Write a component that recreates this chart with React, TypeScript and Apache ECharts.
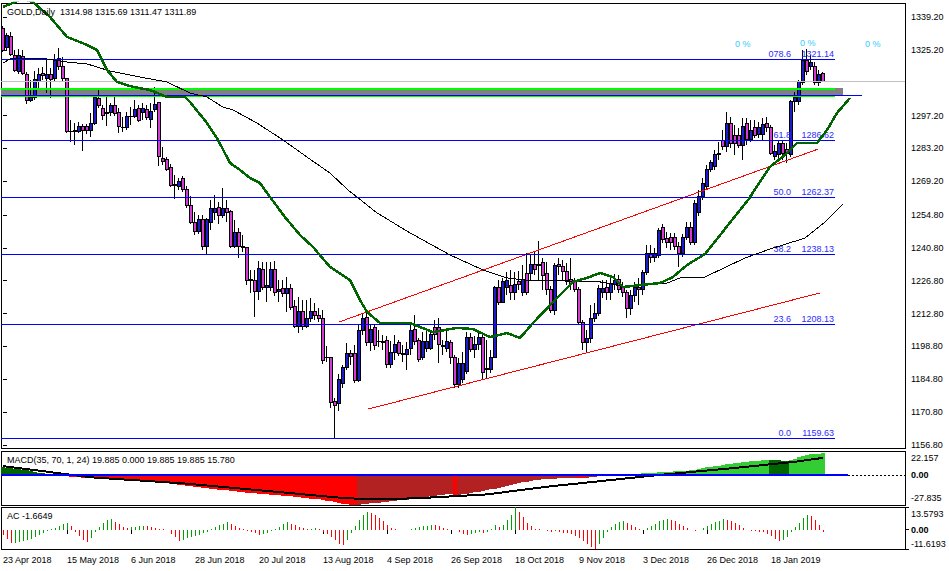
import React, { useEffect, useRef } from "react";
import * as echarts from "echarts";

const FONT = "'Liberation Sans', Arial, sans-serif";

// ---- Daily OHLC (GOLD) ----
const open = [1334.1,1326.4,1330.7,1323.0,1315.8,1322.2,1314.9,1303.8,1304.7,1311.9,1315.3,1313.2,1314.9,1312.8,1321.7,1318.3,1312.8,1290.6,1290.6,1290.6,1292.7,1292.7,1291.0,1294.0,1304.3,1300.0,1297.9,1298.3,1301.3,1298.7,1292.3,1291.9,1296.6,1297.0,1300.4,1298.3,1299.6,1295.7,1299.6,1302.6,1278.7,1278.3,1274.9,1267.2,1266.8,1270.2,1265.9,1258.7,1251.8,1247.6,1252.7,1241.2,1251.8,1255.7,1258.2,1254.8,1257.8,1256.1,1241.6,1247.2,1241.2,1240.8,1226.7,1227.1,1222.4,1231.4,1224.1,1224.1,1231.4,1222.4,1223.3,1221.2,1223.7,1216.0,1207.5,1213.9,1207.5,1210.5,1213.9,1212.2,1210.9,1193.9,1193.9,1175.5,1174.3,1183.2,1190.0,1196.0,1196.0,1184.5,1205.8,1211.3,1200.3,1206.7,1200.7,1201.1,1201.5,1191.3,1196.4,1200.3,1195.2,1195.2,1198.1,1206.2,1201.5,1194.3,1198.1,1198.1,1206.7,1206.7,1199.0,1198.1,1200.3,1194.3,1182.4,1184.9,1188.3,1202.8,1197.3,1199.8,1202.8,1188.8,1188.8,1194.3,1224.1,1217.7,1224.1,1224.6,1222.0,1226.3,1221.6,1230.1,1230.1,1233.9,1233.1,1234.4,1230.1,1222.9,1214.3,1233.9,1232.7,1230.9,1227.5,1226.3,1222.9,1209.2,1200.3,1202.0,1210.9,1213.0,1221.6,1224.1,1221.6,1225.0,1227.5,1224.1,1221.6,1214.8,1220.3,1224.1,1222.9,1230.5,1238.6,1236.9,1237.4,1249.7,1244.6,1245.4,1245.4,1241.2,1238.6,1245.4,1249.7,1242.9,1255.7,1262.5,1266.8,1274.0,1275.7,1280.4,1286.4,1284.2,1294.0,1288.9,1288.9,1284.6,1294.0,1287.2,1291.9,1289.3,1289.3,1294.0,1291.9,1279.9,1280.4,1285.1,1282.9,1280.4,1303.0,1303.0,1311.1,1320.5,1317.9,1317.9,1311.5,1314.98];
const high = [1335.4,1332.4,1332.8,1325.1,1325.6,1325.1,1315.8,1312.4,1316.2,1317.5,1317.9,1320.9,1317.5,1323.4,1326.0,1322.2,1313.2,1295.3,1294.0,1294.5,1293.6,1293.6,1298.3,1305.1,1308.1,1301.7,1305.1,1302.6,1305.1,1300.4,1296.6,1298.7,1300.8,1303.8,1301.7,1302.6,1301.7,1302.6,1309.4,1303.0,1283.8,1279.5,1276.6,1271.9,1270.6,1271.5,1267.2,1262.9,1256.1,1254.8,1254.8,1253.5,1261.2,1263.3,1260.4,1266.3,1261.2,1257.0,1252.7,1249.3,1246.3,1241.2,1231.4,1231.4,1235.2,1234.8,1234.8,1234.8,1235.2,1227.1,1227.1,1228.4,1225.4,1218.6,1219.9,1218.6,1218.6,1219.4,1217.3,1215.2,1214.3,1199.0,1194.3,1176.8,1187.0,1190.9,1200.3,1197.3,1199.4,1207.9,1212.6,1213.0,1207.9,1207.9,1205.8,1203.7,1203.2,1201.1,1203.7,1201.5,1199.4,1200.7,1207.9,1212.2,1202.4,1204.9,1205.8,1205.8,1210.1,1210.9,1201.5,1205.8,1201.5,1195.2,1193.9,1196.4,1204.9,1204.5,1203.2,1204.9,1204.1,1201.5,1197.3,1224.6,1227.1,1228.0,1230.5,1231.4,1230.5,1230.9,1233.5,1238.6,1237.8,1239.0,1243.7,1236.5,1234.8,1224.6,1234.4,1236.5,1235.6,1234.4,1236.5,1228.0,1224.1,1210.1,1205.8,1216.5,1217.3,1225.0,1227.1,1227.1,1228.0,1229.7,1229.2,1226.3,1222.9,1222.9,1226.3,1228.0,1231.4,1242.0,1242.0,1240.8,1249.3,1251.0,1247.6,1247.2,1247.2,1243.3,1246.7,1251.8,1251.8,1261.2,1265.5,1270.6,1276.1,1278.3,1282.5,1285.9,1291.0,1298.7,1296.6,1293.2,1291.9,1296.2,1296.2,1295.3,1295.3,1294.5,1296.2,1296.6,1293.2,1284.6,1286.8,1286.8,1285.5,1303.8,1307.2,1312.4,1325.1,1325.6,1323.0,1320.0,1316.6,1315.69];
const low = [1324.3,1325.1,1322.6,1315.8,1314.9,1314.5,1302.1,1303.0,1303.8,1308.1,1312.4,1306.8,1304.7,1311.5,1316.6,1311.5,1289.8,1285.9,1284.6,1289.8,1282.1,1289.3,1288.1,1293.2,1300.4,1295.3,1292.7,1297.0,1297.0,1289.8,1290.2,1291.0,1293.2,1296.2,1294.5,1295.3,1295.3,1291.9,1298.7,1275.7,1276.1,1273.6,1266.8,1261.6,1265.5,1264.6,1257.8,1251.0,1246.3,1246.7,1239.9,1238.2,1248.4,1252.7,1251.0,1253.5,1251.8,1240.8,1240.8,1236.5,1239.0,1225.0,1221.6,1211.3,1218.6,1222.9,1217.7,1222.4,1220.3,1217.7,1219.9,1213.5,1214.3,1206.7,1204.5,1205.8,1206.7,1209.2,1210.1,1209.2,1191.3,1192.2,1172.5,1159.63,1171.3,1181.1,1188.8,1190.9,1183.2,1183.6,1203.7,1199.0,1196.9,1197.3,1198.6,1197.3,1189.6,1189.6,1193.0,1194.7,1192.2,1188.8,1195.2,1199.4,1192.2,1193.0,1196.4,1197.3,1201.5,1191.7,1195.2,1196.4,1191.3,1181.1,1181.1,1183.2,1187.0,1196.4,1193.9,1197.3,1184.5,1185.3,1187.5,1193.9,1216.5,1217.3,1220.7,1218.6,1218.6,1222.9,1220.3,1220.7,1227.1,1229.2,1227.1,1222.9,1220.7,1213.0,1212.2,1229.2,1227.1,1225.0,1222.9,1222.0,1208.4,1197.3,1196.0,1200.3,1209.2,1211.8,1219.4,1218.6,1218.6,1222.9,1221.6,1219.9,1210.9,1212.2,1217.7,1216.5,1220.7,1229.2,1234.4,1234.8,1236.5,1242.9,1240.8,1239.9,1239.9,1232.7,1236.9,1244.2,1242.0,1242.0,1254.4,1261.2,1265.5,1273.1,1274.0,1278.3,1282.5,1281.7,1283.4,1280.4,1283.4,1278.3,1284.6,1285.9,1287.6,1287.6,1286.8,1290.2,1280.4,1278.3,1279.1,1278.3,1277.0,1279.5,1298.7,1301.7,1310.2,1314.5,1316.6,1310.2,1309.8,1311.47];
const close = [1325.1,1331.5,1323.4,1316.6,1323.0,1315.3,1303.8,1305.1,1312.4,1314.9,1314.1,1314.5,1312.4,1321.3,1317.9,1312.8,1290.2,1290.2,1291.0,1292.7,1291.0,1291.0,1294.0,1304.7,1301.3,1297.4,1298.3,1301.3,1297.9,1292.7,1291.9,1296.6,1297.0,1299.6,1295.3,1300.4,1296.2,1299.1,1302.1,1279.9,1277.8,1274.4,1267.6,1268.0,1269.3,1265.5,1258.7,1251.8,1247.6,1252.7,1241.6,1252.7,1257.8,1257.8,1254.8,1257.8,1255.7,1241.6,1247.2,1241.2,1240.8,1227.1,1227.5,1222.4,1232.2,1224.1,1224.6,1231.4,1222.0,1222.9,1221.2,1223.7,1215.6,1207.5,1213.5,1207.5,1210.9,1213.5,1212.2,1210.9,1193.0,1194.3,1174.7,1173.8,1184.9,1190.0,1196.0,1194.7,1184.5,1205.8,1210.9,1200.3,1206.2,1199.4,1201.1,1200.3,1191.3,1196.4,1199.8,1196.0,1195.6,1197.3,1205.8,1200.7,1193.4,1200.7,1201.1,1203.7,1203.7,1199.8,1198.6,1200.7,1194.3,1182.4,1191.7,1191.7,1202.8,1197.3,1199.8,1202.8,1187.9,1189.6,1194.3,1224.1,1217.7,1226.3,1226.7,1222.0,1225.4,1225.0,1227.5,1221.6,1233.9,1231.4,1233.9,1229.2,1222.9,1214.3,1233.1,1232.7,1230.9,1226.3,1225.8,1222.9,1209.2,1200.3,1202.0,1210.9,1213.0,1223.7,1223.7,1221.6,1225.8,1227.1,1222.9,1221.6,1214.8,1220.7,1224.1,1222.9,1230.5,1238.2,1236.9,1238.2,1248.4,1244.2,1242.9,1242.9,1241.2,1238.6,1245.4,1249.3,1242.9,1259.9,1262.5,1268.4,1274.0,1277.0,1280.4,1281.2,1284.2,1294.0,1285.1,1285.1,1284.6,1292.7,1286.8,1291.0,1288.9,1291.9,1293.2,1291.9,1281.2,1281.7,1285.1,1281.2,1281.2,1303.0,1305.1,1311.9,1320.5,1315.8,1320.0,1311.5,1314.9,1311.89];

// moving averages (bar index, price)
const greenMA = [[0,1343.5],[2.5,1345.2],[4.75,1347],[7.5,1345.6],[11.75,1339.2],[16,1330.7],[21,1327.3],[23.5,1325.1],[26,1316.6],[28.5,1311.5],[32.5,1309.4],[36.75,1308.1],[41,1305.1],[45.5,1305.1],[46.75,1303.0],[51,1294.0],[53.75,1286.8],[56.75,1277.0],[59.25,1274.0],[61.75,1270.6],[64.25,1268.4],[66.75,1262.5],[70.5,1253.9],[74.25,1246.3],[77.5,1241.2],[81.75,1232.7],[86.75,1227.1],[89.25,1218.6],[91,1213.5],[94.25,1208.8],[98,1208.8],[101.75,1208.8],[107.5,1204.9],[113.5,1206.7],[117.5,1206.2],[121.75,1202.8],[126,1204.5],[129.25,1202.4],[132.5,1208.8],[137.5,1217.7],[142.5,1226.3],[146,1228.0],[149.25,1230.1],[152.5,1228.4],[155,1224.1],[159.25,1225.0],[164.25,1225.8],[167.5,1228.4],[171,1233.5],[175.5,1238.2],[186.25,1261.2],[191.75,1275.3],[196,1281.2],[198.5,1285.5],[203.5,1285.5],[206,1291.0],[208.5,1298.3],[211.75,1304.7]];
const blackMA = [[0,1319.6],[1.75,1321.3],[7.5,1321.7],[11,1321.3],[16,1320.0],[21,1319.2],[26.75,1316.2],[34.25,1313.6],[41,1311.5],[46.75,1306.8],[51,1305.1],[55,1300.8],[57.5,1299.6],[63.5,1294.0],[70,1286.8],[76,1279.5],[81.75,1272.7],[86.25,1265.5],[93.5,1255.7],[101.75,1247.2],[111.75,1237.8],[120,1231.4],[126,1228.0],[132.5,1226.7],[141,1226.7],[149.25,1226.3],[156,1224.1],[161,1225.0],[166,1225.8],[169.25,1228.0],[175.5,1228.4],[185.5,1236.5],[191.75,1240.3],[200.5,1245.0],[205.5,1251.8],[210,1259.5]];

// drawn objects
const channelUpper = [[84,1209.2],[203.75,1282.9]];
const channelLower = [[91.25,1172.1],[204.25,1221.6]];
const fibLevels = ["078.6","61.8","50.0","38.2","23.6","0.0"];
const fibPrices = [1321.14,1286.62,1262.37,1238.13,1208.13,1159.63];
const zoneTop = 1308.8;
const zoneBottom = 1306.0;
const hLinePrice = 1306.0;
const lastPrice = 1311.89;

// axes
const priceTicks = [1156.8,1170.8,1184.8,1198.8,1212.8,1226.8,1240.8,1254.8,1269.2,1283.2,1297.2,1325.2,1339.2];
const dateLabels = ["23 Apr 2018","15 May 2018","6 Jun 2018","28 Jun 2018","20 Jul 2018","13 Aug 2018","4 Sep 2018","26 Sep 2018","18 Oct 2018","9 Nov 2018","3 Dec 2018","26 Dec 2018","18 Jan 2019"];
const macdMax = 22.157, macdMin = -27.835;
const acMax = 13.5793, acMin = -11.6193;

// MACD(35,70,1,24) histogram and signal
const macd = [7.0,6.6,6.2,5.8,5.3,4.8,4.2,3.6,2.9,2.2,1.4,0.6,
-0.2,-0.6,-0.9,-1.1,-1.4,-1.7,-2.0,-2.3,-2.5,-2.7,-3.0,
-3.2,-3.4,-3.6,-3.8,-4.0,-4.3,-4.6,-4.9,-5.1,-5.4,-5.6,-5.8,-6.0,-6.2,-6.4,-6.6,-7.0,-7.4,-7.8,-8.2,-8.6,-9.1,-9.6,
-10.1,-10.6,-11.1,-11.6,-12.1,-12.5,-12.9,-13.3,-13.7,-14.0,-14.3,-14.7,-15.1,-15.5,-15.9,-16.3,-16.7,-17.1,-17.5,-17.8,-18.1,-18.4,-18.7,
-19.0,-19.3,-19.6,-19.9,-20.3,-20.7,-21.1,-21.5,-21.9,-22.3,-22.7,-23.2,-23.7,-24.3,-25.2,-25.9,
-26.6,-27.1,-27.5,-27.8,
-27.6,-27.2,-26.8,-26.4,-26.0,-25.6,-25.2,-24.8,-24.4,-24.0,-23.6,-23.2,-22.8,-22.2,-21.5,
-21.0,-20.5,-20.0,-19.6,-19.2,-18.8,-18.4,-18.1,-17.9,-18.6,
-18.3,-17.8,-17.2,-16.6,-16.0,-15.4,-14.9,-14.3,-13.4,-12.6,-11.8,-11.0,-10.2,-9.2,-8.1,
-7.4,-6.8,-6.2,-5.6,-5.1,-4.6,-4.2,-3.9,-3.7,-3.4,-3.2,-3.0,
-2.8,-2.6,-2.5,-2.7,-3.0,-2.9,-2.3,-1.7,-1.0,-0.5,-0.1,0.3,
0.6,0.8,1.0,0.9,1.0,1.2,1.3,1.5,1.8,2.0,2.2,2.6,2.7,2.8,
3.0,3.2,3.3,3.6,4.0,4.2,4.9,5.5,6.2,6.9,7.5,8.1,8.6,9.2,10.0,
10.4,10.8,11.2,11.7,12.1,12.5,12.9,13.3,13.7,14.0,
13.8,13.6,13.5,13.3,13.1,14.2,15.2,16.3,17.6,18.4,19.1,19.4,19.7,19.885];
const macdSignal = [[0,8.2],[11,3.0],[22,-2.2],[45,-7.8],[68,-15.5],[86,-21.7],[94,-22.3],[103,-21.7],[121,-18.0],[136,-10.9],[152,-4.7],[164,0],[182,6.1],[198,12.2],[205,15.78]];

// Accelerator oscillator
const ac = [-3.0,-5.5,-8.0,-7.8,-7.5,-7.0,-6.3,-5.5,-4.6,-3.5,-2.2,-1.0,0.3,1.2,2.2,3.3,3.8,2.0,-1.5,-4.0,-6.5,-7.5,-5.0,-1.5,1.5,4.0,5.8,6.2,4.8,3.2,1.6,1.0,1.3,1.6,1.9,2.2,2.0,1.5,1.0,0.6,0.3,-0.5,-2.5,-4.5,-7.0,-6.0,-5.2,-4.5,-3.8,-3.0,-2.2,-1.2,0.2,1.5,2.6,3.6,4.3,3.6,2.4,1.2,0.3,-0.6,-1.4,-2.3,-3.2,-2.6,-1.8,-0.9,0.4,1.8,3.2,4.3,3.6,2.5,1.6,0.9,0.5,0.6,0.8,0.4,-1.2,-2.8,-4.6,-6.5,-8.5,-9.5,-6.0,-2.0,2.0,6.0,9.0,10.5,10.0,8.5,7.0,5.0,2.5,1.0,0.3,-0.3,-0.5,-0.2,0.2,0.8,1.4,2.0,2.4,2.8,2.5,1.9,1.2,0.6,0.0,-0.5,-1.5,-2.8,-3.5,-2.9,-2.2,-1.5,-1.8,-1.2,0.5,2.5,1.5,2.8,5.5,9.0,13.58,10.5,7.5,4.0,2.0,0.5,0.2,-0.3,-0.8,-1.2,-0.8,-1.2,-1.8,-2.3,-2.9,-3.6,-5.0,-7.0,-8.8,-10.5,-11.62,-8.5,-5.0,-1.5,1.5,3.5,4.5,5.0,3.8,2.5,1.5,0.5,-0.3,0.8,2.0,3.5,5.0,5.8,6.3,6.0,5.0,3.5,2.2,1.0,0.0,-0.8,-0.3,0.8,2.0,3.2,4.3,5.3,6.2,6.0,5.0,3.8,2.6,1.2,-0.2,-0.6,-1.0,-1.3,-1.6,-2.5,-4.0,-5.5,-6.6,-6.3,-4.5,-1.5,1.5,4.0,7.0,9.0,8.2,6.0,3.0,-1.6649];

const SLOTS = 226;
const LABEL_EVERY = 16;
const FIB_END = 208;
const ZONE_END = 210;
const HLINE_END = 214.75;
const ZERO_END = 211.25;

export default function App() {
  const ref = useRef<HTMLDivElement>(null);
  useEffect(() => {
    const chart = echarts.init(ref.current as HTMLDivElement, null, { renderer: "svg" });
    const cats = Array.from({ length: SLOTS }, (_, i) => String(i));
    const showLabel = (i: number) => i % LABEL_EVERY === 0 && i / LABEL_EVERY < dateLabels.length;
    const txt = { fontFamily: FONT, fontSize: 9, color: "#000" };
    const gridBase = { left: 1, width: 904, show: true, borderColor: "#000", borderWidth: 1, backgroundColor: "#fff", outerBoundsMode: "none", containLabel: false };

    const macdColors = macd.map((v, i) => {
      const prev = i === 0 ? Infinity : macd[i - 1];
      if (v >= 0) return v >= prev ? "#32cd32" : "#006400";
      return v <= prev ? "#ff0000" : "#b22222";
    });
    const acColors = ac.map((v, i) => (i > 0 && v > ac[i - 1] ? "#00a000" : "#ff0000"));

    const lineOpts = { type: "line", showSymbol: false, symbol: "none", silent: true, clip: true };

    const option: any = {
      animation: false,
      backgroundColor: "#fff",
      textStyle: { fontFamily: FONT },
      grid: [
        { ...gridBase, top: 3, height: 445 },
        { ...gridBase, top: 451, height: 54 },
        { ...gridBase, top: 507, height: 42 },
      ],
      xAxis: [
        { type: "category", gridIndex: 0, data: cats, show: false },
        { type: "value", gridIndex: 0, min: -0.5, max: SLOTS - 0.5, show: false },
        { type: "category", gridIndex: 1, data: cats, show: false },
        { type: "value", gridIndex: 1, min: -0.5, max: SLOTS - 0.5, show: false },
        {
          type: "category", gridIndex: 2, data: cats,
          axisLine: { show: false },
          axisTick: { show: true, alignWithLabel: true, interval: (i: number) => showLabel(i), length: 4, lineStyle: { color: "#000" } },
          axisLabel: { ...txt, interval: (i: number) => showLabel(i), align: "left", margin: 6, formatter: (_v: string, i: number) => (showLabel(i) ? dateLabels[i / LABEL_EVERY] : "") },
          splitLine: { show: false },
        },
      ],
      yAxis: [
        {
          type: "value", gridIndex: 0, position: "right", min: 1155.52, max: 1345.17,
          splitLine: { show: false }, axisLine: { show: false },
          axisTick: { show: true, customValues: priceTicks, length: 4, lineStyle: { color: "#000" } },
          axisLabel: { ...txt, customValues: priceTicks, margin: 6, formatter: (v: number) => v.toFixed(2) },
        },
        {
          type: "value", gridIndex: 1, position: "right", min: macdMin, max: macdMax,
          splitLine: { show: false }, axisLine: { show: false },
          axisTick: { show: true, customValues: [macdMin, 0, macdMax], length: 4, lineStyle: { color: "#000" } },
          axisLabel: {
            ...txt, customValues: [macdMin, 0, macdMax], margin: 6,
            formatter: (v: number) => (v === macdMax ? "{t|" + v.toFixed(3) + "}" : v === macdMin ? "{b|" + v.toFixed(3) + "}" : "{z|0.00}"),
            rich: { t: { ...txt, padding: [13, 0, 0, 0] }, b: { ...txt, padding: [0, 0, 14, 0] }, z: { ...txt, fontWeight: "bold" } },
          },
        },
        {
          type: "value", gridIndex: 2, position: "right", min: acMin, max: acMax,
          splitLine: { show: false }, axisLine: { show: false },
          axisTick: { show: true, customValues: [acMin, 0, acMax], length: 4, lineStyle: { color: "#000" } },
          axisLabel: {
            ...txt, customValues: [acMin, 0, acMax], margin: 6,
            formatter: (v: number) => (v === acMax ? "{t|" + v.toFixed(4) + "}" : v === acMin ? "{b|" + v.toFixed(4) + "}" : "{z|0.00}"),
            rich: { t: { ...txt, padding: [14, 0, 0, 0] }, b: { ...txt, padding: [0, 0, 11, 0] }, z: { ...txt, fontWeight: "bold" } },
          },
        },
      ],
      series: [
        {
          type: "candlestick", xAxisIndex: 0, yAxisIndex: 0, barWidth: 3, z: 2,
          data: open.map((o, i) => [o, close[i], low[i], high[i]]),
          itemStyle: { color: "#1c1cc8", color0: "#d23cd2", borderColor: "#000", borderColor0: "#000", borderWidth: 1 },
        },
        // grey zone and horizontal lines
        {
          ...lineOpts, xAxisIndex: 1, yAxisIndex: 0, data: [], z: 3,
          markArea: { silent: true, itemStyle: { color: "#808080" }, data: [[{ coord: [-0.5, zoneTop] }, { coord: [ZONE_END, zoneBottom] }]] },
          markLine: {
            silent: true, symbol: ["none", "none"], label: { show: false },
            data: [
              [{ coord: [-0.5, zoneTop], lineStyle: { color: "#00ff00", width: 2, type: "solid" } }, { coord: [FIB_END, zoneTop] }],
              [{ coord: [-0.5, zoneBottom - 0.2], lineStyle: { color: "#00ff00", width: 2, type: "solid" } }, { coord: [FIB_END, zoneBottom - 0.2] }],
              [{ coord: [-0.5, hLinePrice], lineStyle: { color: "#0000ff", width: 1, type: "solid" } }, { coord: [HLINE_END, hLinePrice] }],
              [{ coord: [-0.5, lastPrice], lineStyle: { color: "#c0c0c0", width: 1, type: "solid" } }, { coord: [SLOTS - 0.5, lastPrice] }],
            ],
          },
        },
        // price boxes on the axis
        {
          ...lineOpts, xAxisIndex: 1, yAxisIndex: 0, data: [], z: 6,
          markLine: {
            silent: true, symbol: ["none", "none"],
            data: [
              [{ coord: [SLOTS - 1, lastPrice], lineStyle: { opacity: 0 }, label: { show: true, position: "end", distance: 0, formatter: lastPrice.toFixed(2), color: "#fff", backgroundColor: "#000", padding: [1, 4, 1, 4], fontSize: 9, fontFamily: FONT } }, { coord: [SLOTS - 0.5, lastPrice] }],
              [{ coord: [SLOTS - 1, hLinePrice], lineStyle: { opacity: 0 }, label: { show: true, position: "end", distance: 0, formatter: hLinePrice.toFixed(2), color: "#fff", backgroundColor: "#0000cc", padding: [1, 4, 1, 4], fontSize: 9, fontFamily: FONT } }, { coord: [SLOTS - 0.5, hLinePrice] }],
            ],
          },
        },
        // Fibonacci levels
        {
          ...lineOpts, xAxisIndex: 1, yAxisIndex: 0, data: [], z: 3,
          markLine: {
            silent: true, symbol: ["none", "none"],
            lineStyle: { color: "#0000ff", width: 1, type: "solid" },
            label: {
              show: true, position: "insideEndTop", distance: 1,
              formatter: (p: any) => "{a|" + p.name + "}{b|" + fibPrices[fibLevels.indexOf(p.name)].toFixed(2) + "}",
              rich: { a: { color: "#2b2bff", fontSize: 9, fontFamily: FONT, width: 24, align: "right" }, b: { color: "#2b2bff", fontSize: 9, fontFamily: FONT, width: 43, align: "right" } },
            },
            data: fibLevels.map((n, k) => [{ name: n, coord: [-0.5, fibPrices[k]] }, { coord: [FIB_END, fibPrices[k]] }]),
          },
        },
        // channel lines
        { ...lineOpts, xAxisIndex: 1, yAxisIndex: 0, z: 4, data: channelUpper, lineStyle: { color: "#ff0000", width: 1 } },
        { ...lineOpts, xAxisIndex: 1, yAxisIndex: 0, z: 4, data: channelLower, lineStyle: { color: "#ff0000", width: 1 } },
        // moving averages
        { ...lineOpts, xAxisIndex: 1, yAxisIndex: 0, z: 5, data: blackMA, lineStyle: { color: "#000", width: 1 } },
        { ...lineOpts, xAxisIndex: 1, yAxisIndex: 0, z: 5, data: greenMA, lineStyle: { color: "#006400", width: 2.5 } },
        // MACD
        {
          type: "bar", xAxisIndex: 2, yAxisIndex: 1, barWidth: 4, silent: true,
          data: macd.map((v, i) => ({ value: v, itemStyle: { color: macdColors[i] } })),
        },
        {
          ...lineOpts, xAxisIndex: 3, yAxisIndex: 1, z: 4, data: macdSignal, lineStyle: { color: "#000", width: 2 },
          markLine: {
            silent: true, symbol: ["none", "none"], label: { show: false },
            data: [
              [{ coord: [-0.5, 0], lineStyle: { color: "#0000ff", width: 2, type: "solid" } }, { coord: [ZERO_END, 0] }],
              [{ coord: [ZERO_END, 0], lineStyle: { color: "#000", width: 1, type: [2, 2] } }, { coord: [SLOTS - 0.5, 0] }],
            ],
          },
        },
        // AC
        {
          type: "bar", xAxisIndex: 4, yAxisIndex: 2, barWidth: 1, silent: true,
          data: ac.map((v, i) => ({ value: v, itemStyle: { color: acColors[i] } })),
        },
      ],
      graphic: [
        { type: "text", left: 7, top: 7, z: 100, style: { text: "GOLD,Daily  1314.98 1315.69 1311.47 1311.89", fill: "#000", fontSize: 9, fontFamily: FONT } },
        { type: "text", left: 735, top: 39, z: 100, style: { text: "0 %", fill: "#33ccff", fontSize: 9, fontFamily: FONT } },
        { type: "text", left: 800, top: 38, z: 100, style: { text: "0 %", fill: "#33ccff", fontSize: 9, fontFamily: FONT } },
        { type: "text", left: 865, top: 39, z: 100, style: { text: "0 %", fill: "#33ccff", fontSize: 9, fontFamily: FONT } },
        { type: "text", left: 7, top: 455, z: 100, style: { text: "MACD(35, 70, 1, 24) 19.885 0.000 19.885 19.885 15.780", fill: "#000", fontSize: 9, fontFamily: FONT } },
        { type: "text", left: 7, top: 511, z: 100, style: { text: "AC -1.6649", fill: "#000", fontSize: 9, fontFamily: FONT } },
      ],
    };
    chart.setOption(option);
    return () => chart.dispose();
  }, []);
  return <div ref={ref} style={{ position: "fixed", left: 0, top: 0, width: 949, height: 571, background: "#fff", shapeRendering: "crispEdges" } as any} />;
}
